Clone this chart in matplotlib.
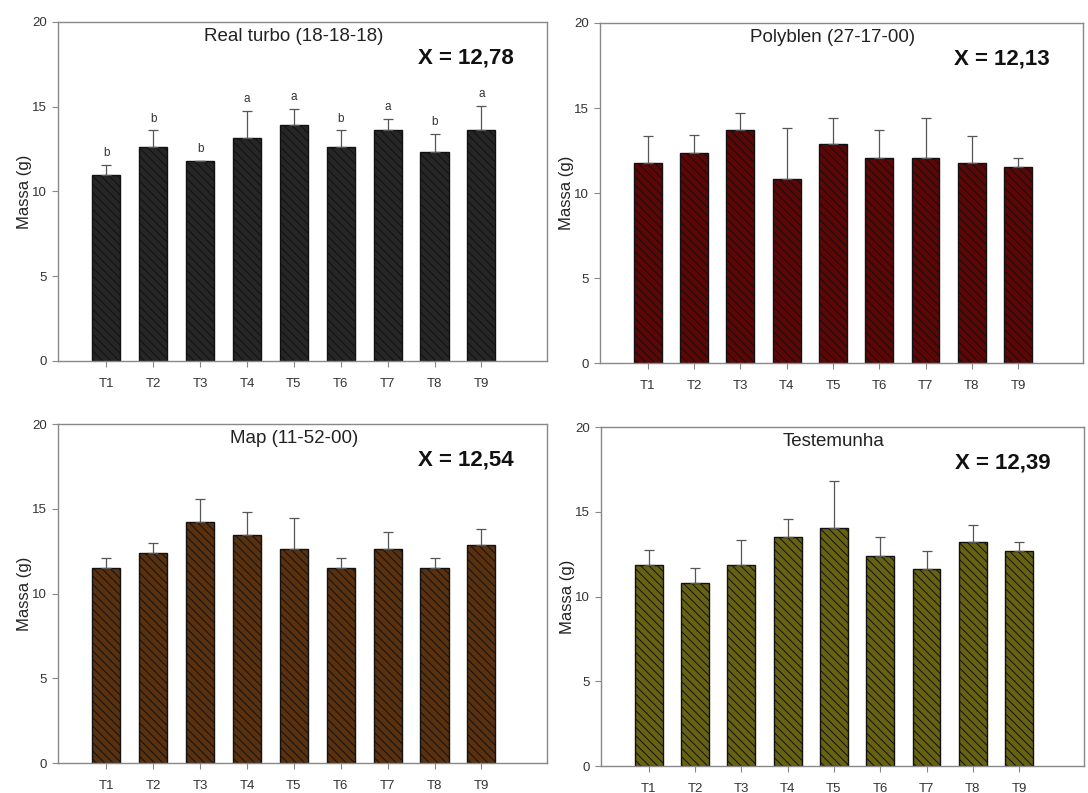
import numpy as np
import matplotlib
matplotlib.use('Agg')
import matplotlib.pyplot as plt

plt.rcParams['font.family'] = ['Liberation Sans', 'DejaVu Sans']
plt.rcParams['hatch.linewidth'] = 0.7

trat = ['T1', 'T2', 'T3', 'T4', 'T5', 'T6', 'T7', 'T8', 'T9']

# media e erro (so para cima) de cada adubo
real_m = [11.0, 12.6, 11.8, 13.15, 13.9, 12.6, 13.65, 12.3, 13.65]
real_e = [0.55, 1.0, 0.0, 1.6, 0.95, 1.0, 0.6, 1.1, 1.4]
real_let = ['b', 'b', 'b', 'a', 'a', 'b', 'a', 'b', 'a']

poly_m = [11.78, 12.33, 13.7, 10.8, 12.86, 12.04, 12.04, 11.78, 11.53]
poly_e = [1.55, 1.07, 1.0, 3.0, 1.54, 1.66, 2.39, 1.55, 0.55]

map_m = [11.5, 12.37, 14.24, 13.45, 12.6, 11.5, 12.6, 11.5, 12.86]
map_e = [0.61, 0.61, 1.33, 1.38, 1.87, 0.61, 1.05, 0.61, 0.94]

test_m = [11.88, 10.8, 11.88, 13.49, 14.04, 12.39, 11.6, 13.2, 12.66]
test_e = [0.86, 0.9, 1.47, 1.06, 2.76, 1.1, 1.06, 1.04, 0.58]

paineis = [
    ('Real turbo (18-18-18)', 'X = 12,78', real_m, real_e, '#262626', real_let,
     [0.0533, 0.5448, 0.4495, 0.4275]),
    ('Polyblen (27-17-00)', 'X = 12,13', poly_m, poly_e, '#5c0606', None,
     [0.5515, 0.5422, 0.4439, 0.4288]),
    ('Map (11-52-00)', 'X = 12,54', map_m, map_e, '#5a310f', None,
     [0.0533, 0.0378, 0.4495, 0.4275]),
    ('Testemunha', 'X = 12,39', test_m, test_e, '#666212', None,
     [0.5524, 0.0340, 0.4439, 0.4275]),
]

fig = plt.figure(figsize=(10.88, 7.93), dpi=100)
x = np.arange(len(trat))

for titulo, media, m, e, cor, letras, pos in paineis:
    ax = fig.add_axes(pos)
    ax.bar(x, m, width=0.6, color=cor, edgecolor='#111111', linewidth=1.0,
           hatch='\\\\\\\\')
    ax.errorbar(x, m, yerr=[np.zeros(len(m)), e], fmt='none', ecolor='#555555',
                elinewidth=0.9, capsize=3.5, capthick=0.9)
    if letras is not None:
        for xi, mi, ei, l in zip(x, m, e, letras):
            ax.text(xi, mi + ei + 0.35, l, ha='center', va='bottom',
                    fontsize=8.5, color='#333333')
    ax.set_xlim(-1.03, 9.4)
    ax.set_ylim(0, 20)
    ax.set_yticks([0, 5, 10, 15, 20])
    ax.set_xticks(x)
    ax.set_xticklabels(trat)
    ax.set_ylabel('Massa (g)', fontsize=12, color='#222222', labelpad=0)
    ax.text(4, 19.15, titulo, ha='center', va='center', fontsize=13.5, color='#222222')
    ax.text(8.68, 17.9, media, ha='right', va='center', fontsize=16,
            fontweight='bold', color='#111111')
    for s in ax.spines.values():
        s.set_color('#888888')
        s.set_linewidth(1.0)
    ax.tick_params(axis='both', labelsize=9.5, colors='#333333', length=4,
                   direction='out', width=0.8)
    ax.tick_params(axis='x', pad=8)
    ax.tick_params(axis='y', pad=4)
    ax.tick_params(axis='both', color='#888888')

plt.savefig('out.png', dpi=100)
